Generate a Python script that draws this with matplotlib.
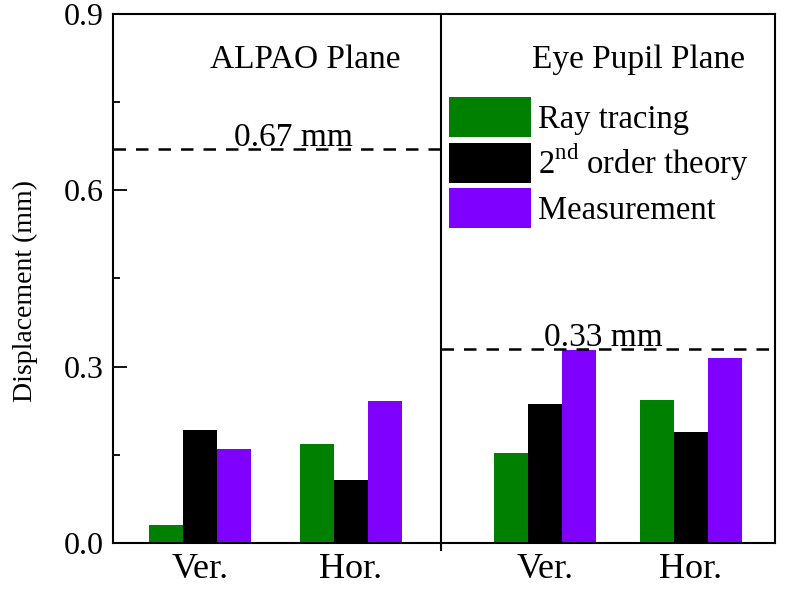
import matplotlib
matplotlib.use("Agg")
import matplotlib.pyplot as plt
import numpy as np

plt.rcParams['font.family'] = ['Liberation Serif', 'DejaVu Serif']
plt.rcParams['mathtext.fontset'] = 'custom'
plt.rcParams['mathtext.rm'] = 'Liberation Serif'

categories = ["Ver.", "Hor.", "Ver.", "Hor."]
ray_tracing = [0.031, 0.169, 0.153, 0.244]
second_order = [0.192, 0.107, 0.237, 0.189]
measurement = [0.160, 0.242, 0.329, 0.315]
series_names = ["Ray tracing", "2$^{\\mathrm{nd}}$ order theory", "Measurement"]
colors = ["#008000", "#000000", "#8000FF"]
ref_left = 0.67
ref_right = 0.33
panel_titles = ["ALPAO Plane", "Eye Pupil Plane"]

fig = plt.figure(figsize=(8, 5.9), dpi=100)
ax = fig.add_axes([113/800, 1-543/590, 662/800, 529/590])

xpos = np.array([0.87, 2.38, 4.32, 5.78])
w = 0.343
divider = 3.28
for i, (vals, c, name) in enumerate(zip([ray_tracing, second_order, measurement], colors, series_names)):
    ax.bar(xpos + (i-1)*w, vals, width=w, color=c, label=name, zorder=2)

ax.set_xlim(0, 6.62)
ax.set_ylim(0, 0.9)
ax.set_yticks([0, 0.3, 0.6, 0.9])
ax.set_yticks([0.15, 0.45, 0.75], minor=True)
ax.yaxis.set_major_formatter(matplotlib.ticker.FormatStrFormatter('%.1f'))
ax.tick_params(axis='y', which='major', direction='in', length=10, width=1.3, labelsize=23, pad=7)
ax.tick_params(axis='y', which='minor', direction='in', length=5, width=1.3)
ax.set_xticks(xpos)
ax.set_xticklabels(categories)
ax.tick_params(axis='x', length=0, labelsize=26, pad=7)
for s in ax.spines.values():
    s.set_linewidth(1.5)
ax.set_ylabel("Displacement (mm)", fontsize=20)
ax.yaxis.set_label_coords(-0.113, 0.476)

# divider
ax.plot([divider, divider], [-0.012, 0.9], color='black', lw=1.5, clip_on=False, zorder=3)

# reference lines
ax.plot([0, divider], [ref_left, ref_left], color='black', lw=1.8, dashes=(5, 4), zorder=3)
ax.plot([divider, 6.62], [ref_right, ref_right], color='black', lw=1.8, dashes=(5, 4), zorder=3)
ax.text(1.8, ref_left + 0.005, f"{ref_left:.2f} mm", fontsize=24, ha='center', va='baseline')
ax.text(4.9, ref_right + 0.006, f"{ref_right:.2f} mm", fontsize=24, ha='center', va='baseline')

ax.text(1.92, 0.808, panel_titles[0], fontsize=24, ha='center', va='baseline')
ax.text(5.25, 0.808, panel_titles[1], fontsize=24, ha='center', va='baseline')

leg = ax.legend(loc='upper left', bbox_to_anchor=(0.5076, 0.843), frameon=False,
                fontsize=23.5, handlelength=2.5, handleheight=1.5, handletextpad=0.22,
                labelspacing=0.15, borderaxespad=0, borderpad=0)

fig.savefig("out.png", dpi=100)
